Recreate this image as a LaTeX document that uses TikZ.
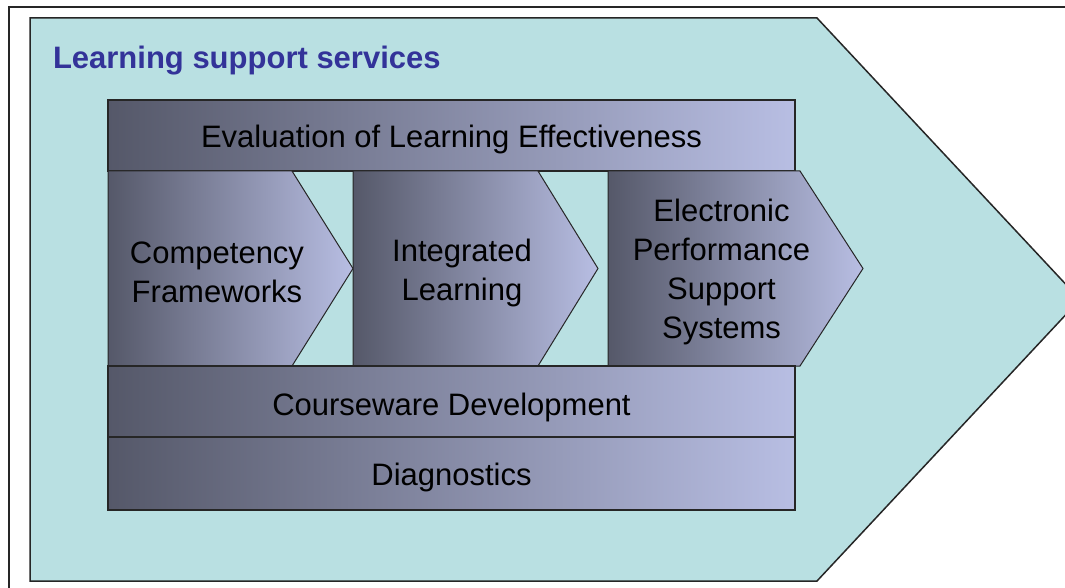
\documentclass[tikz,border=0pt]{standalone}
\usepackage{fontspec}
\setmainfont{Liberation Sans}
\begin{document}
\begin{tikzpicture}[x=1pt,y=-1pt,
  every node/.style={inner sep=0pt,outer sep=0pt},
  bar/.style={draw=black!85,line width=1.2pt,left color=dk,right color=lt},
  lbl/.style={font=\fontsize{31}{39}\selectfont,text=black,align=center},
  ttl/.style={font=\fontsize{31}{37}\selectfont\bfseries,text=ttlblue,anchor=west}]
\definecolor{dk}{HTML}{555869}
\definecolor{lt}{HTML}{B8BEE3}
\definecolor{teal}{HTML}{B9E0E2}
\definecolor{ttlblue}{HTML}{333399}
\useasboundingbox (0,0) rectangle (1065,588);
\clip (0,0) rectangle (1065,588);
% outer frame
\draw[line width=2pt,black!85] (9,600) -- (9,7) -- (1080,7);
% big teal arrow
\draw[fill=teal,draw=black!85,line width=1.5pt]
  (30,18) -- (817,18) -- (1080,299.5) -- (817,581) -- (30,581) -- cycle;
\node[ttl] (title) at (53,60.5) {Learning support services};
% evaluation bar
\path[bar] (108,100) rectangle (795,171);
\node[lbl] (eval) at (451.5,139) {Evaluation of Learning Effectiveness};
% chevrons
\path[bar,line width=1pt] (108,171) -- (292,171) -- (353,268.5) -- (292,366) -- (108,366) -- cycle;
\node[lbl] (comp) at (217,272) {Competency\\Frameworks};
\path[bar,line width=1pt] (353,171) -- (538,171) -- (598,268.5) -- (538,366) -- (353,366) -- cycle;
\node[lbl] (integ) at (462,273) {Integrated\\Learning};
\path[bar,line width=1pt] (608,171) -- (800,171) -- (863,268.5) -- (800,366) -- (608,366) -- cycle;
\node[lbl] (eps) at (721.5,272) {Electronic\\Performance\\Support\\Systems};
% bottom bars
\path[bar] (108,366) rectangle (795,437);
\node[lbl] (course) at (451.5,407) {Courseware Development};
\path[bar] (108,437) rectangle (795,510);
\node[lbl] (diag) at (451.5,477) {Diagnostics};
\end{tikzpicture}
\end{document}
